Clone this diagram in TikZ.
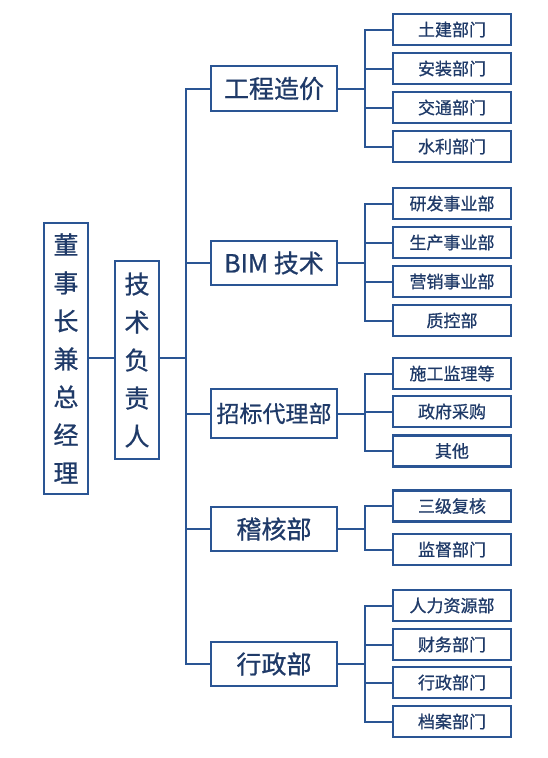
\documentclass[tikz,border=0pt]{standalone}
\usepackage{fontspec}
\setmainfont{Noto Sans CJK SC}
\newfontfamily\cjk[FakeBold=0.8]{Noto Sans CJK SC}
\definecolor{bordblue}{HTML}{2A5594}
\definecolor{txtblue}{HTML}{1F3A68}
\begin{document}
\begin{tikzpicture}[x=1pt,y=-1pt,
  box/.style={draw=bordblue,line width=2.2pt,fill=white,inner sep=0pt,text=txtblue,font=\cjk},
  vbox/.style={box,minimum width=44pt,align=center,font=\cjk\fontsize{25}{38}\selectfont},
  lone/.style={box,minimum width=126pt,minimum height=44pt,font=\cjk\fontsize{25}{30}\selectfont},
  ltwo/.style={box,minimum width=118pt,minimum height=31pt,font=\cjk\fontsize{17}{20}\selectfont},
  conn/.style={draw=bordblue,line width=2pt}]
\useasboundingbox (0,0) rectangle (547,758);
% left boxes
\node[vbox,minimum height=271pt] (gm) at (66,358.5) {董\\事\\长\\兼\\总\\经\\理};
\node[vbox,minimum height=198pt] (tech) at (137,360) {技\\术\\负\\责\\人};
% level one
\node[lone,minimum height=45pt] (gc) at (274,88.5) {工程造价};
\node[lone] (bim) at (274,263) {BIM 技术};
\node[lone,minimum height=49pt,font=\cjk\fontsize{23}{28}\selectfont] (zb) at (274,413.5) {招标代理部};
\node[lone] (jh) at (274,529) {稽核部};
\node[lone] (xz) at (274,664) {行政部};
% level two
\node[ltwo] (a1) at (452,29.5) {土建部门};
\node[ltwo] (a2) at (452,68.5) {安装部门};
\node[ltwo] (a3) at (452,107.5) {交通部门};
\node[ltwo] (a4) at (452,146.5) {水利部门};
\node[ltwo] (b1) at (452,203.5) {研发事业部};
\node[ltwo] (b2) at (452,242.5) {生产事业部};
\node[ltwo] (b3) at (452,281.5) {营销事业部};
\node[ltwo] (b4) at (452,320.5) {质控部};
\node[ltwo] (c1) at (452,373.5) {施工监理等};
\node[ltwo] (c2) at (452,411.5) {政府采购};
\node[ltwo] (c3) at (452,451) {其他};
\node[ltwo] (d1) at (452,506) {三级复核};
\node[ltwo] (d2) at (452,549.5) {监督部门};
\node[ltwo] (e1) at (452,605.5) {人力资源部};
\node[ltwo] (e2) at (452,644.5) {财务部门};
\node[ltwo] (e3) at (452,682.5) {行政部门};
\node[ltwo] (e4) at (452,721.5) {档案部门};
% connectors
\coordinate (tr) at (186,358);
\draw[conn] (gm.east |- 0,358) -- (tech.west |- 0,358);
\draw[conn] (tech.east |- 0,358) -- (tr);
\draw[conn] (gc.west) -| (tr);
\draw[conn] (xz.west) -| (tr);
\draw[conn] (bim.west) -- (bim.west -| tr);
\draw[conn] (zb.west) -- (zb.west -| tr);
\draw[conn] (jh.west) -- (jh.west -| tr);
% sub trunks
\foreach \p/\f/\l/\m in {gc/a1/a4/{a2,a3},bim/b1/b4/{b2,b3},xz/e1/e4/{e2,e3}}{
  \draw[conn] (\p.east) -- (\p.east -| 365,0);
  \draw[conn] (\f.west) -| (365,0 |- \f.west) -- (365,0 |- \l.west) -- (\l.west);
  \foreach \q in \m {\draw[conn] (\q.west) -- (\q.west -| 365,0);}
}
\draw[conn] (zb.east) -- (zb.east -| 365,0);
\draw[conn] (c1.west) -- (c1.west -| 365,0) -- (c3.west -| 365,0) -- (c3.west);
\draw[conn] (c2.west) -- (c2.west -| 365,0);
\draw[conn] (jh.east) -- (jh.east -| 365,0);
\draw[conn] (d1.west) -- (d1.west -| 365,0) -- (d2.west -| 365,0) -- (d2.west);
\end{tikzpicture}
\end{document}
